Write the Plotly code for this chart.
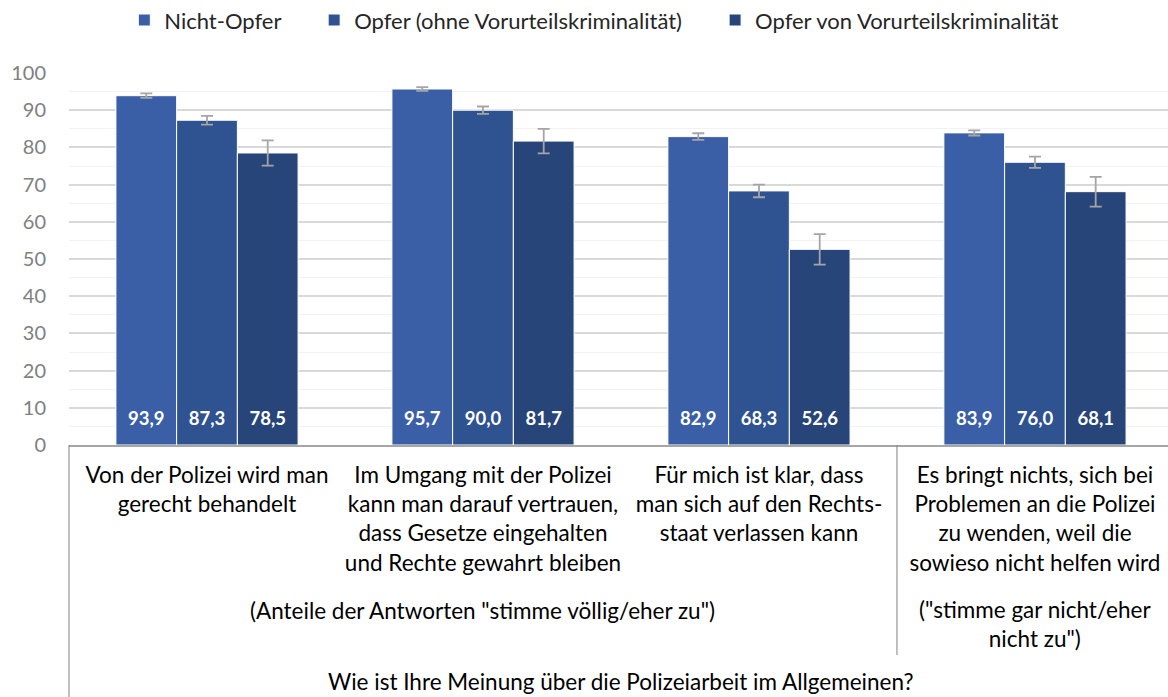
import plotly.graph_objects as go

categories = [
    "Von der Polizei wird man<br>gerecht behandelt",
    "Im Umgang mit der Polizei<br>kann man darauf vertrauen,<br>dass Gesetze eingehalten<br>und Rechte gewahrt bleiben",
    "Für mich ist klar, dass<br>man sich auf den Rechts-<br>staat verlassen kann",
    "Es bringt nichts, sich bei<br>Problemen an die Polizei<br>zu wenden, weil die<br>sowieso nicht helfen wird",
]
series_names = ["Nicht-Opfer", "Opfer (ohne Vorurteilskriminalität)", "Opfer von Vorurteilskriminalität"]
nicht_opfer = [93.9, 95.7, 82.9, 83.9]
opfer_ohne = [87.3, 90.0, 68.3, 76.0]
opfer_von = [78.5, 81.7, 52.6, 68.1]
err_nicht_opfer = [0.6, 0.5, 0.9, 0.7]
err_opfer_ohne = [1.2, 1.0, 1.7, 1.5]
err_opfer_von = [3.4, 3.3, 4.1, 4.0]
colors = ["#3A5FA6", "#2F5290", "#274579"]
group_note_left = '(Anteile der Antworten "stimme völlig/eher zu")'
group_note_right = '("stimme gar nicht/eher<br>nicht zu")'
axis_title = "Wie ist Ihre Meinung über die Polizeiarbeit im Allgemeinen?"

FONT = "Lato"
LBL = 22.5
LABEL_Y = 6.5  # vertical placement of the value labels inside the bars (axis units)
xs = list(range(len(categories)))
legend_pad = ["\u00a0" * 5, "\u00a0" * 5, ""]

fig = go.Figure()
all_vals = [nicht_opfer, opfer_ohne, opfer_von]
all_errs = [err_nicht_opfer, err_opfer_ohne, err_opfer_von]
for i, (name, pad, vals, errs, col) in enumerate(zip(series_names, legend_pad, all_vals, all_errs, colors)):
    fig.add_trace(go.Bar(
        x=xs, y=vals, name=name + pad, offsetgroup=str(i), alignmentgroup="a",
        marker=dict(color=col, line=dict(color="white", width=1)),
        error_y=dict(type="data", array=errs, color="#A5A5A5", thickness=1.8, width=6),
        hoverinfo="x+y",
    ))
for i, vals in enumerate(all_vals):
    fig.add_trace(go.Scatter(
        x=xs, y=[LABEL_Y] * len(vals), mode="text", offsetgroup=str(i), alignmentgroup="a",
        text=[f"{v:.1f}".replace(".", ",") for v in vals], textposition="middle center",
        textfont=dict(family=FONT, size=18.5, color="white", weight="bold"),
        showlegend=False, hoverinfo="skip",
    ))

fig.update_layout(
    width=1168, height=697,
    margin=dict(l=69, r=0, t=73, b=252, autoexpand=False),
    paper_bgcolor="white", plot_bgcolor="white",
    barmode="group", bargap=0.34, bargroupgap=0.0,
    scattermode="group",
    font=dict(family=FONT, size=LBL, color="#000000"),
    legend=dict(orientation="h", x=0.478, xanchor="center", yref="container", y=0.971, yanchor="middle",
                font=dict(family=FONT, size=22, color="#262626"), traceorder="normal"),
    xaxis=dict(range=[-0.5, 3.482], tickmode="array", tickvals=xs, ticktext=categories,
               showgrid=False, showline=True, linecolor="#A6A6A6", linewidth=1.5,
               ticks="", ticklabelstandoff=9, tickfont=dict(family=FONT, size=LBL, color="#000000"),
               zeroline=False, automargin=False),
    yaxis=dict(range=[0, 100], dtick=10, showgrid=True, gridcolor="#D9D9D9", gridwidth=1.5,
               minor=dict(dtick=5, showgrid=True, gridcolor="#F2F2F2", gridwidth=1),
               tickfont=dict(family=FONT, size=20, color="#808080"), zeroline=False,
               ticklabelstandoff=22, automargin=False),
)

def py(px):
    return (445 - px) / 372.0

fig.add_shape(type="line", xref="paper", yref="paper", x0=0, x1=0, y0=0, y1=py(697),
              line=dict(color="#808080", width=1))
fig.add_shape(type="line", xref="x", yref="paper", x0=2.5, x1=2.5, y0=0, y1=py(655),
              line=dict(color="#808080", width=1))

fig.add_annotation(x=1, xref="x", y=py(610), yref="paper", text=group_note_left,
                   showarrow=False, yanchor="middle", font=dict(family=FONT, size=LBL, color="#000000"))
fig.add_annotation(x=3, xref="x", y=py(594), yref="paper", text=group_note_right,
                   showarrow=False, yanchor="top", font=dict(family=FONT, size=LBL, color="#000000"))
fig.add_annotation(x=1.5, xref="x", y=py(681), yref="paper", text=axis_title,
                   showarrow=False, yanchor="middle", font=dict(family=FONT, size=LBL, color="#000000"))

fig.write_html("out.html", config={"displayModeBar": False},
               post_script="document.body.style.margin='0';document.body.style.overflow='hidden';")
